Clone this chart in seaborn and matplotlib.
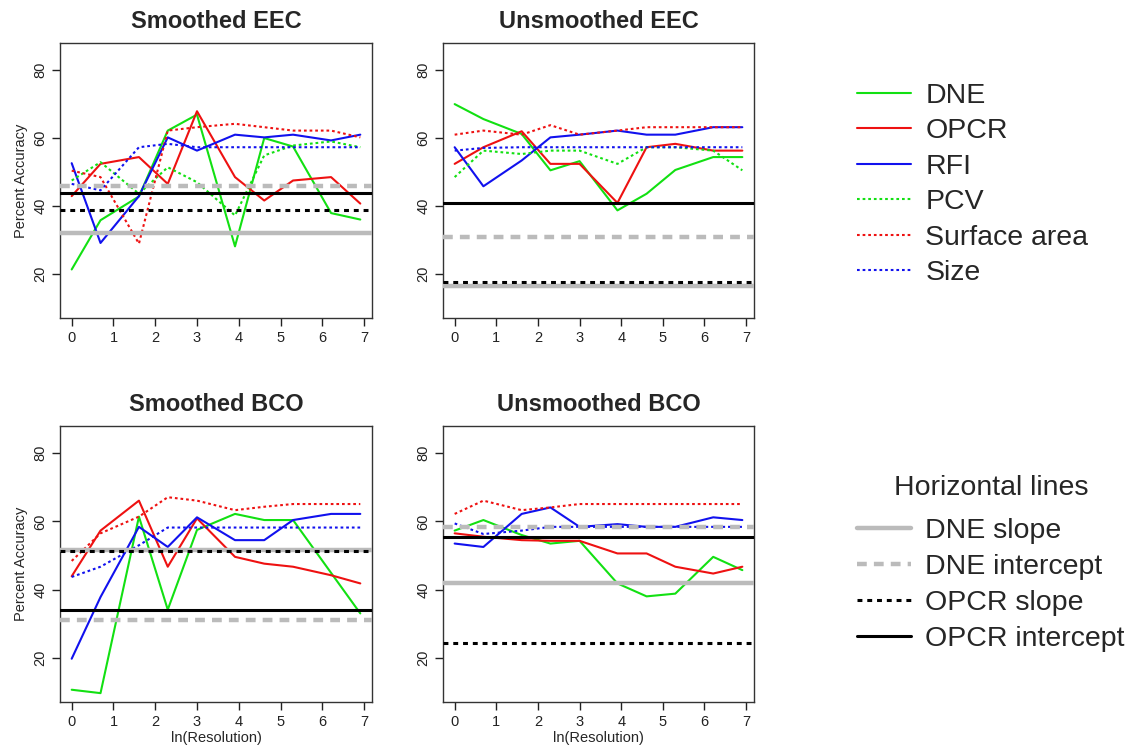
import numpy as np
import pandas as pd
import matplotlib
matplotlib.use("Agg")
import matplotlib.pyplot as plt
from matplotlib.lines import Line2D
import seaborn as sns

# ---------------- data ----------------
ln_resolution = [0.00, 0.69, 1.61, 2.30, 3.00, 3.91, 4.61, 5.30, 6.21, 6.91]
series_names = ["DNE", "OPCR", "RFI", "PCV", "Surface area", "Size"]
panel_titles = ["Smoothed EEC", "Unsmoothed EEC", "Smoothed BCO", "Unsmoothed BCO"]
hline_names = ["DNE slope", "DNE intercept", "OPCR slope", "OPCR intercept"]
nan = np.nan

# Smoothed EEC
seec_dne = [21.3, 35.8, 42.8, 62.2, 66.9, 28.1, 60.0, 57.5, 37.9, 36.0]
seec_opcr = [42.9, 52.4, 54.4, 46.5, 67.9, 48.5, 41.6, 47.5, 48.5, 40.7]
seec_rfi = [52.6, 29.1, 42.9, 60.2, 56.3, 61.0, 60.2, 61.0, 59.3, 61.0]
seec_pcv = [47.5, 52.9, 43.6, 51.4, 47.0, 37.2, 54.9, 57.8, 59.0, 57.3]
seec_area = [50.4, 48.5, 28.9, 62.2, 63.2, 64.2, 63.2, 62.2, 62.2, 60.2]
seec_size = [46.5, 44.6, 57.3, 58.3, 57.3, 57.3, 57.3, 57.3, 57.3, 57.3]
seec_hlines = [32.1, 45.8, 38.7, 43.7]

# Unsmoothed EEC
ueec_dne = [70.0, 65.6, 61.2, 50.5, 53.2, 38.7, 43.6, 50.6, 54.4, 54.4]
ueec_opcr = [52.4, 57.3, 62.0, 52.4, 52.4, 40.9, 57.3, 58.3, 56.3, 56.3]
ueec_rfi = [57.3, 45.8, 53.4, 60.2, 61.0, 62.2, 61.0, 61.0, 63.2, 63.2]
ueec_pcv = [48.5, 56.3, 55.3, 56.3, 56.3, 52.4, 57.3, 57.3, 56.3, 50.5]
ueec_area = [61.0, 62.2, 61.0, 63.8, 61.0, 62.2, 63.2, 63.2, 63.2, 63.2]
ueec_size = [56.3, 57.1, 57.3, 57.3, 57.3, 57.3, 57.3, 57.3, 57.3, 57.3]
ueec_hlines = [16.4, 30.9, 17.5, 40.9]

# Smoothed BCO
sbco_dne = [10.6, 9.6, 61.4, 34.1, 57.5, 62.2, 60.4, 60.4, 44.9, 33.0]
sbco_opcr = [43.9, 57.3, 66.1, 46.7, 60.9, 49.6, 47.6, 46.7, 44.2, 41.8]
sbco_rfi = [19.7, 37.8, 58.4, 52.5, 61.2, 54.5, 54.5, 60.4, 62.2, 62.2]
sbco_pcv = [nan] * 10
sbco_area = [48.4, 56.5, 61.4, 67.1, 66.1, 63.3, 64.3, 65.1, 65.1, 65.1]
sbco_size = [43.7, 46.7, 53.0, 58.2, 58.2, 58.2, 58.2, 58.2, 58.2, 58.2]
sbco_hlines = [51.6, 31.0, 51.4, 33.9]

# Unsmoothed BCO
ubco_dne = [57.3, 60.4, 56.0, 53.5, 54.3, 41.8, 38.0, 38.8, 49.6, 45.7]
ubco_opcr = [56.5, 55.5, 54.5, 54.3, 54.3, 50.6, 50.6, 46.7, 44.7, 46.7]
ubco_rfi = [53.5, 52.5, 62.2, 64.1, 58.4, 59.2, 58.4, 58.4, 61.2, 60.4]
ubco_pcv = [nan] * 10
ubco_area = [62.2, 66.1, 63.3, 64.1, 65.1, 65.1, 65.1, 65.1, 65.1, 65.1]
ubco_size = [59.4, 56.3, 57.3, 58.4, 58.4, 58.4, 58.4, 58.4, 58.4, 58.4]
ubco_hlines = [41.8, 58.4, 24.3, 55.3]

panel_series = [
    [seec_dne, seec_opcr, seec_rfi, seec_pcv, seec_area, seec_size],
    [ueec_dne, ueec_opcr, ueec_rfi, ueec_pcv, ueec_area, ueec_size],
    [sbco_dne, sbco_opcr, sbco_rfi, sbco_pcv, sbco_area, sbco_size],
    [ubco_dne, ubco_opcr, ubco_rfi, ubco_pcv, ubco_area, ubco_size],
]
panel_hlines = [seec_hlines, ueec_hlines, sbco_hlines, ubco_hlines]

rows = []
for title, series in zip(panel_titles, panel_series):
    for name, vals in zip(series_names, series):
        for xv, yv in zip(ln_resolution, vals):
            rows.append({"panel": title, "series": name, "x": xv, "y": yv})
df = pd.DataFrame(rows)

# ---------------- style ----------------
sns.set_style("ticks")
plt.rcParams["font.family"] = ["Liberation Sans", "DejaVu Sans"]

GREEN, RED, BLUE = "#12E012", "#EE1111", "#1111EE"
GRAY = "#BBBBBB"
DOT = (0, (1.3, 1.4))
series_colors = {"DNE": GREEN, "OPCR": RED, "RFI": BLUE,
                 "PCV": GREEN, "Surface area": RED, "Size": BLUE}
series_styles = {"DNE": "-", "OPCR": "-", "RFI": "-",
                 "PCV": DOT, "Surface area": DOT, "Size": DOT}
hline_styles = {
    "DNE slope": dict(color=GRAY, lw=3.2, ls="-"),
    "DNE intercept": dict(color=GRAY, lw=3.2, ls=(0, (2.2, 1.6))),
    "OPCR slope": dict(color="black", lw=2.2, ls=(0, (1.6, 1.6))),
    "OPCR intercept": dict(color="black", lw=2.2, ls="-"),
}

W, H = 1145, 751
fig = plt.figure(figsize=(W / 100, H / 100), dpi=100)
fig.patch.set_facecolor("white")

# axes boxes in pixels: (left, top, right, bottom)
boxes = [(60, 43, 372, 318), (443, 43, 754, 318),
         (60, 426, 372, 702), (443, 426, 754, 702)]

for i, (title, box) in enumerate(zip(panel_titles, boxes)):
    l, t, r, b = box
    ax = fig.add_axes([l / W, 1 - b / H, (r - l) / W, (b - t) / H])
    sub = df[df["panel"] == title]
    for name in series_names:
        d = sub[sub["series"] == name]
        if d["y"].notna().any():
            sns.lineplot(data=d, x="x", y="y", ax=ax, color=series_colors[name],
                         linestyle=series_styles[name], lw=1.5, sort=False,
                         estimator=None, legend=False, zorder=2)
    for hname, hv in zip(hline_names, panel_hlines[i]):
        ax.axhline(hv, zorder=3, **hline_styles[hname])
    ax.set_xlim(-0.28, 7.19)
    ax.set_ylim(7, 88)
    ax.set_xticks(range(8))
    ax.set_yticks([20, 40, 60, 80])
    ax.tick_params(axis="both", direction="out", length=6, width=1,
                   labelsize=10.5, colors="#222222", pad=3)
    for lab in ax.get_yticklabels():
        lab.set_rotation(90)
        lab.set_va("center")
    for sp in ax.spines.values():
        sp.set_visible(True)
        sp.set_color("#333333")
        sp.set_linewidth(1)
    ax.set_title(title, fontsize=17, fontweight="bold", pad=11)
    ax.set_xlabel("ln(Resolution)" if i >= 2 else "", fontsize=10.5, labelpad=2)
    ax.set_ylabel("Percent Accuracy" if i % 2 == 0 else "", fontsize=10.5, labelpad=4)

# ---------------- legends ----------------
LFS = 20.5
h1 = [Line2D([], [], color=series_colors[n], ls=series_styles[n], lw=1.5)
      for n in series_names]
leg1 = fig.legend(h1, series_names, loc="upper left",
                  bbox_to_anchor=(857 / W, 1 - 83 / H), frameon=False,
                  fontsize=LFS, handlelength=1.9, handletextpad=0.5,
                  labelspacing=0.33, borderpad=0, borderaxespad=0)

h2 = [Line2D([], [], **hline_styles[n]) for n in hline_names]
leg2 = fig.legend(h2, hline_names, loc="upper left",
                  bbox_to_anchor=(857 / W, 1 - 475 / H), frameon=False,
                  fontsize=LFS, title="Horizontal lines", title_fontsize=LFS,
                  handlelength=1.9, handletextpad=0.5, labelspacing=0.35,
                  borderpad=0, borderaxespad=0)
leg2._legend_box.sep = 12

fig.savefig("out.png", dpi=100, facecolor="white")
